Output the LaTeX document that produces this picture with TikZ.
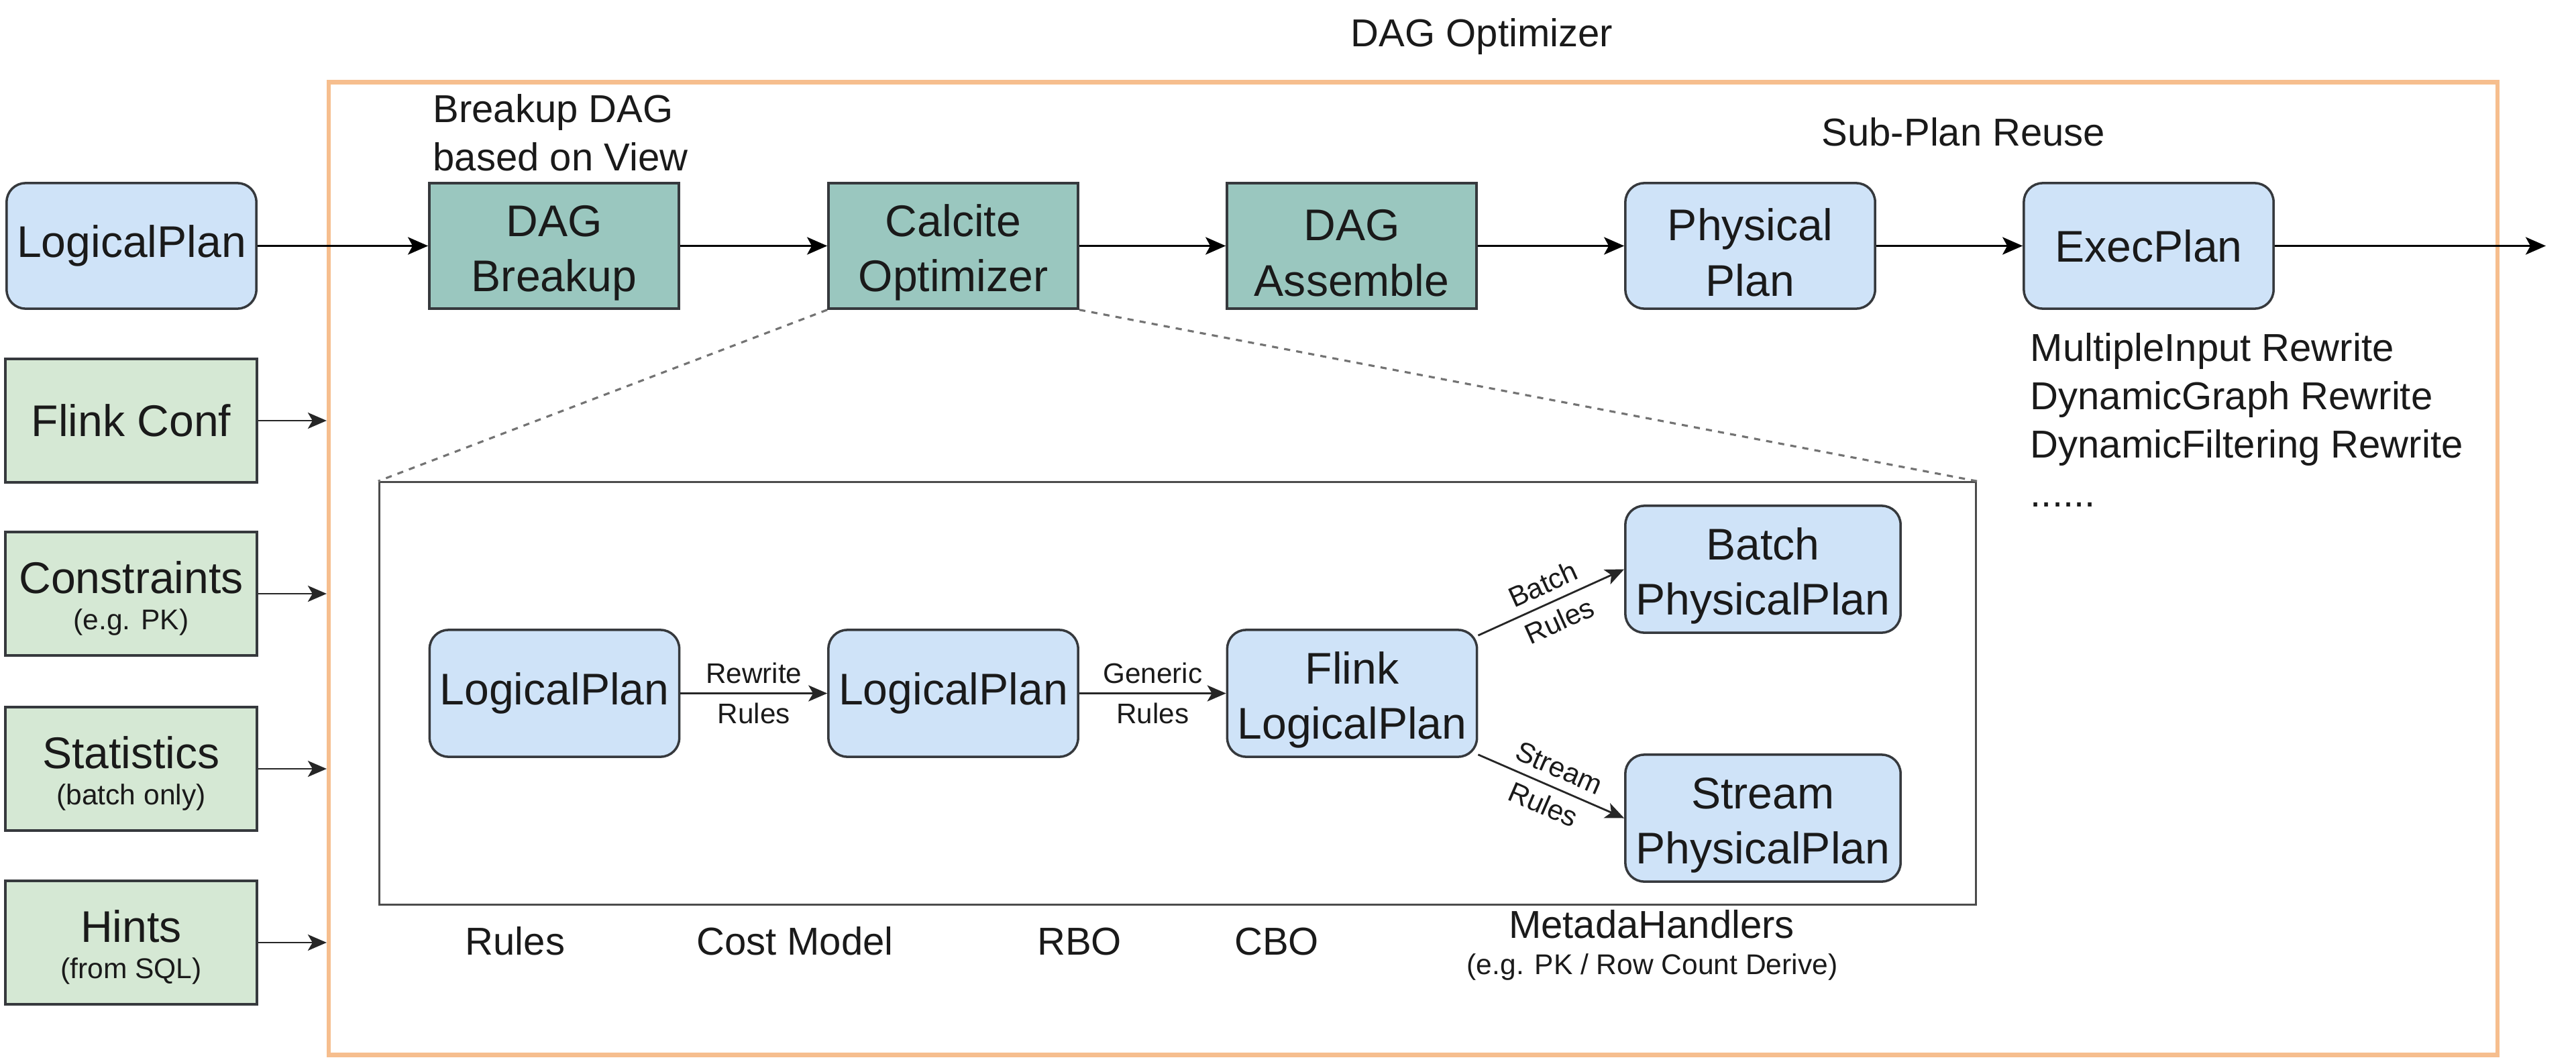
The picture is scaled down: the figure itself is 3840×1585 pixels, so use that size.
\documentclass[tikz,border=0pt]{standalone}
\usepackage{fontspec}
\setmainfont{Liberation Sans}
\usetikzlibrary{arrows.meta,calc}
\definecolor{bluef}{HTML}{CFE3F8}
\definecolor{tealf}{HTML}{9AC7BF}
\definecolor{greenf}{HTML}{D5E8D4}
\definecolor{orangef}{HTML}{F6BE8E}
\definecolor{strokec}{HTML}{36393D}
\definecolor{txtc}{HTML}{1A1A1A}
\newcommand\fmain{\fontsize{18.8}{23.5}\selectfont}
\newcommand\fmed{\fontsize{16.5}{20.5}\selectfont}
\newcommand\fsmall{\fontsize{12.1}{15.5}\selectfont}
\newcommand\flab{\fontsize{12}{17}\selectfont}
\newcommand\toptwo{\rule{0pt}{19.3pt}}
\newcommand\topgreen{\rule{0pt}{17.7pt}}
\tikzset{
  base box/.style={draw=strokec, line width=1pt, minimum width=3.72cm, minimum height=1.87cm, inner sep=0pt, align=center, font=\fmain, text=txtc},
  bluebox/.style={base box, fill=bluef, rounded corners=0.28cm},
  tealbox/.style={base box, fill=tealf},
  greenbox/.style={base box, fill=greenf, minimum width=3.75cm, minimum height=1.84cm},
  arr/.style={draw=black, line width=1pt, -{Stealth[length=0.3cm,width=0.26cm,inset=0.07cm]}},
  thinarr/.style={draw=black!85, line width=0.8pt, -{Stealth[length=0.28cm,width=0.24cm,inset=0.07cm]}},
  elab/.style={font=\flab, align=center, inner sep=0pt, text=txtc},
  plain/.style={inner sep=0pt, text=txtc},
  dashline/.style={draw=black!55, line width=0.9pt, dash pattern=on 2.6pt off 2.6pt}
}
\begin{document}
\begin{tikzpicture}[x=0.01cm,y=-0.01cm]
\useasboundingbox (0,0) rectangle (3840,1585);
\fill[white] (0,0) rectangle (3840,1585);

% frames
\node[draw=orangef, line width=1.8pt, minimum width=32.31cm, minimum height=14.49cm, inner sep=0pt] (frame) at (2106.5,847.5) {};
\node[draw=black!70, line width=0.9pt, minimum width=23.79cm, minimum height=6.29cm, inner sep=0pt] (inner) at (1755.5,1033.5) {};

% title texts
\node[plain, font=\fmed, anchor=base] (title) at (2209,70) {DAG Optimizer};
\node[plain, font=\fmed, align=left, anchor=west] (brk) at (645,198) {Breakup DAG\\based on View};
\node[plain, font=\fmed, anchor=base] (reuse) at (2927,218) {Sub-Plan Reuse};
\node[plain, font=\fmed, align=left, anchor=north west] (list) at (3026,496) {MultipleInput Rewrite\\DynamicGraph Rewrite\\DynamicFiltering Rewrite\\......};

% top row
\node[bluebox] (lp) at (196,366.5) {LogicalPlan};
\node[tealbox] (dagb) at (826,366.5) {\toptwo DAG\\Breakup};
\node[tealbox] (calc) at (1421,366.5) {\toptwo Calcite\\Optimizer};
\node[tealbox] (asm) at (2015,366.5) {\toptwo DAG\\Assemble};
\node[bluebox] (phys) at (2609,366.5) {\toptwo Physical\\Plan};
\node[bluebox] (exec) at (3203,366.5) {ExecPlan};
\coordinate (out) at (3795,366.5);

\draw[arr] (lp) -- (dagb);
\draw[arr] (dagb) -- (calc);
\draw[arr] (calc) -- (asm);
\draw[arr] (asm) -- (phys);
\draw[arr] (phys) -- (exec);
\draw[arr] (exec) -- (out);

% left inputs
\node[greenbox] (fconf) at (195.5,627) {Flink Conf};
\node[greenbox] (cons) at (195.5,885) {\topgreen Constraints\\[-8pt]{\fsmall (e.g. PK)}};
\node[greenbox] (stat) at (195.5,1146) {\topgreen Statistics\\[-8pt]{\fsmall (batch only)}};
\node[greenbox] (hint) at (195.5,1405) {\topgreen Hints\\[-8pt]{\fsmall (from SQL)}};
\draw[thinarr] (fconf.east) -- (fconf.east -| frame.west);
\draw[thinarr] (cons.east) -- (cons.east -| frame.west);
\draw[thinarr] (stat.east) -- (stat.east -| frame.west);
\draw[thinarr] (hint.east) -- (hint.east -| frame.west);

% zoom lines
\draw[dashline] (calc.south west) -- (inner.north west);
\draw[dashline] (calc.south east) -- (inner.north east);

% inner row
\node[bluebox, minimum height=1.89cm] (lp1) at (826.5,1033.5) {LogicalPlan};
\node[bluebox, minimum height=1.89cm] (lp2) at (1421,1033.5) {LogicalPlan};
\node[bluebox, minimum height=1.89cm] (flp) at (2015.5,1033.5) {\toptwo Flink\\LogicalPlan};
\node[bluebox, minimum width=4.1cm, minimum height=1.89cm] (bpp) at (2628,848.5) {\toptwo Batch\\PhysicalPlan};
\node[bluebox, minimum width=4.1cm, minimum height=1.89cm] (spp) at (2628,1219.5) {\toptwo Stream\\PhysicalPlan};

\draw[thinarr] (lp1) -- node[elab]{Rewrite\\Rules} (lp2);
\draw[thinarr] (lp2) -- node[elab]{Generic\\Rules} (flp);
\draw[thinarr] ([yshift=-0.1cm]flp.north east) -- node[elab, sloped]{Batch\\Rules} (bpp.west);
\draw[thinarr] ([yshift=0.05cm]flp.south east) -- node[elab, sloped]{Stream\\Rules} (spp.west);

% bottom labels
\node[plain, font=\fmed, anchor=base] (rules) at (768,1423) {Rules};
\node[plain, font=\fmed, anchor=base] (cost) at (1185,1423) {Cost Model};
\node[plain, font=\fmed, anchor=base] (rbo) at (1609,1423) {RBO};
\node[plain, font=\fmed, anchor=base] (cbo) at (1903,1423) {CBO};
\node[plain, font=\fmed, anchor=base] (meta) at (2462,1398) {MetadaHandlers};
\node[plain, font=\fsmall, anchor=base] (metaeg) at (2463,1452) {(e.g. PK / Row Count Derive)};
\end{tikzpicture}
\end{document}
